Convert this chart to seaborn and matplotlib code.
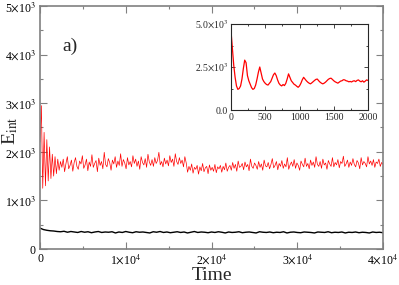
import numpy as np
import pandas as pd
import matplotlib
matplotlib.use("Agg")
import matplotlib.pyplot as plt
import seaborn as sns
from matplotlib.ticker import FixedLocator, MultipleLocator, FixedFormatter

# red curve, main panel (evenly sampled over 0..40000)
redMain = [2200, 2950, 1250, 2400, 1300, 2250, 1400, 2100, 1450, 1950, 1500, 1900, 1550, 1850,
           1620, 1800, 1680, 1850, 1590, 1760, 1900, 1650, 1720, 1830,
           1600, 1780, 1880, 1700, 1640, 1810, 1750, 1920, 1660, 1730,
           1850, 1610, 1790, 1700, 1940, 1680, 1760, 1820, 1590, 1870,
           1720, 1800, 1650, 1990, 1740, 1690, 1860, 1780, 1620, 1830,
           1750, 1900, 1680, 1810, 1720, 1960, 1700, 1840, 1770, 1650,
           1880, 1730, 1800, 1690, 1920, 1760, 1850, 1700, 1810, 1640,
           1900, 1780, 1730, 1860, 1680, 1950, 1790, 1720, 1840, 1700,
           1880, 1760, 1820, 1990, 1730, 1800, 1690, 1870, 1750, 1830,
           1710, 1920, 1780, 1850, 1700, 1960, 1800, 1740, 1880, 1760,
           1830, 1690, 1900, 1770,
           1580, 1700, 1620, 1750, 1560, 1680, 1640, 1720, 1540, 1690,
           1610, 1760, 1590, 1670, 1700, 1550, 1730, 1620, 1680, 1600,
           1740, 1570, 1690, 1650, 1720, 1580, 1700, 1630, 1770, 1600,
           1680,
           1720, 1620, 1780, 1660, 1740, 1600, 1810, 1680, 1700, 1760,
           1630, 1790, 1690, 1740, 1610, 1850, 1700, 1660, 1770, 1720,
           1640, 1800, 1680, 1750, 1620, 1830, 1710, 1690, 1780, 1650,
           1740, 1860, 1670, 1720, 1800, 1630, 1760, 1700, 1820, 1660,
           1750, 1690, 1880, 1640, 1730, 1790, 1700, 1840, 1660, 1770,
           1720, 1620, 1810, 1740, 1690, 1870, 1700, 1760, 1650, 1830,
           1720, 1790, 1680, 1900, 1740, 1700, 1800, 1660, 1850, 1730,
           1770, 1640, 1820, 1750, 1700, 1880, 1690, 1780, 1730, 1840,
           1670, 1800, 1760, 1910, 1700, 1750, 1830, 1680, 1790, 1720,
           1860, 1740, 1690, 1820, 1770, 1650, 1880, 1730, 1800, 1760,
           1690, 1900, 1750, 1810, 1720, 1840, 1680, 1790, 1760, 1850,
           1700, 1780, 1740]

# black curve, main panel (dt = 400)
blackMain = [430, 400, 385, 375, 370, 360, 355, 365, 345, 360,
             350, 340, 360, 345, 355, 335, 350, 360, 340, 350,
             345, 355, 330, 350, 340, 360, 345, 335, 355, 345,
             350, 340, 330, 355, 345, 360, 340, 350, 335, 345,
             355, 340, 350, 330, 345, 360, 340, 350, 345, 335,
             350, 340, 355, 345, 330, 350, 340, 345, 355, 335,
             345, 350, 340, 330, 355, 345, 340, 350, 335, 345,
             340, 355, 330, 345, 350, 340, 335, 350, 345, 340,
             330, 350, 345, 340, 355, 335, 345, 340, 350, 330,
             345, 340, 350, 335, 345, 340, 330, 350, 340, 345, 335]

# red curve, inset (dt = 20)
redInset = [4600, 3600, 2600, 1900, 1400, 1200, 1250, 1400, 1800, 2400,
            2900, 2750, 2000, 1700, 1500, 1300, 1200, 1250, 1450, 1800,
            2200, 2500, 2150, 1800, 1650, 1550, 1480, 1450, 1550, 1650,
            1850, 2050, 2150, 2000, 1750, 1550, 1450, 1400, 1480, 1420,
            1550, 1800, 2100, 1900, 1700, 1600, 1500, 1450, 1380, 1320,
            1400, 1550, 1750, 1900, 1800, 1700, 1620, 1560, 1520, 1580,
            1650, 1720, 1780, 1800, 1700, 1620, 1560, 1520, 1560, 1620,
            1700, 1780, 1830, 1850, 1780, 1700, 1640, 1600, 1560, 1620,
            1680, 1700, 1760, 1750, 1700, 1680, 1640, 1660, 1630, 1680,
            1700, 1650, 1720, 1750, 1680, 1640, 1700, 1620, 1680, 1750,
            1720]

mainTicksX = [0, 10000, 20000, 30000, 40000]
mainLabelsX = ["0", r"1$\times$10$^4$", r"2$\times$10$^4$", r"3$\times$10$^4$", r"4$\times$10$^4$"]
mainTicksY = [0, 1000, 2000, 3000, 4000, 5000]
mainLabelsY = ["0", r"1$\times$10$^3$", r"2$\times$10$^3$", r"3$\times$10$^3$", r"4$\times$10$^3$", r"5$\times$10$^3$"]
insetTicksX = [0, 500, 1000, 1500, 2000]
insetLabelsX = ["0", "500", "1000", "1500", "2000"]
insetTicksY = [0, 2500, 5000]
insetLabelsY = ["0.0", r"2.5$\times$10$^3$", r"5.0$\times$10$^3$"]

dfRed = pd.DataFrame({"t": np.arange(len(redMain)) * (40000 / (len(redMain) - 1)), "E": redMain})
dfBlack = pd.DataFrame({"t": np.arange(len(blackMain)) * (40000 / (len(blackMain) - 1)), "E": blackMain})
dfInset = pd.DataFrame({"t": np.arange(len(redInset)) * 20, "E": redInset})

sns.set_theme(style="ticks")
plt.rcParams['font.family'] = ['Liberation Serif', 'DejaVu Serif']
plt.rcParams['mathtext.fontset'] = 'stix'

fig = plt.figure(figsize=(3.99, 2.85), dpi=100)
ax = fig.add_axes([40 / 399, 1 - 249 / 285, 343 / 399, 243 / 285])
sns.lineplot(data=dfRed, x="t", y="E", color="red", linewidth=0.5, ax=ax)
sns.lineplot(data=dfBlack, x="t", y="E", color="black", linewidth=1.0, ax=ax)
ax.set_xlim(0, 40000)
ax.set_ylim(0, 5000)
ax.xaxis.set_major_locator(FixedLocator(mainTicksX))
ax.xaxis.set_major_formatter(FixedFormatter(mainLabelsX))
ax.yaxis.set_major_locator(FixedLocator(mainTicksY))
ax.yaxis.set_major_formatter(FixedFormatter(mainLabelsY))
ax.xaxis.set_minor_locator(MultipleLocator(5000))
ax.yaxis.set_minor_locator(MultipleLocator(500))
ax.tick_params(which="both", direction="in", top=True, right=True, colors="#808080",
               labelcolor="black", labelsize=8.5, pad=3)
ax.tick_params(which="major", length=5, width=0.8)
ax.tick_params(which="minor", length=2.5, width=0.8)
for s in ax.spines.values():
    s.set_color("#808080")
    s.set_linewidth(1.2)
ax.set_xlabel("Time", fontsize=14, labelpad=0)
ax.set_ylabel(r"E$_{\rm int}$", fontsize=14, va="center")
ax.yaxis.set_label_coords(-0.088, 0.485)
ax.text(3500, 4180, "a)", fontsize=14, ha="center", va="center")

axi = fig.add_axes([231 / 399, 1 - 110 / 285, 137 / 399, 86 / 285])
sns.lineplot(data=dfInset, x="t", y="E", color="red", linewidth=0.9, ax=axi)
axi.set_xlim(0, 2000)
axi.set_ylim(0, 5000)
axi.xaxis.set_major_locator(FixedLocator(insetTicksX))
axi.xaxis.set_major_formatter(FixedFormatter(insetLabelsX))
axi.yaxis.set_major_locator(FixedLocator(insetTicksY))
axi.yaxis.set_major_formatter(FixedFormatter(insetLabelsY))
axi.xaxis.set_minor_locator(MultipleLocator(250))
axi.yaxis.set_minor_locator(MultipleLocator(1250))
axi.tick_params(which="both", direction="in", top=True, right=True, labelsize=7, pad=2, width=0.6)
axi.tick_params(which="major", length=3)
axi.tick_params(which="minor", length=1.5)
for s in axi.spines.values():
    s.set_linewidth(0.8)
axi.set_xlabel("")
axi.set_ylabel("")

fig.savefig("out.png", dpi=100)
